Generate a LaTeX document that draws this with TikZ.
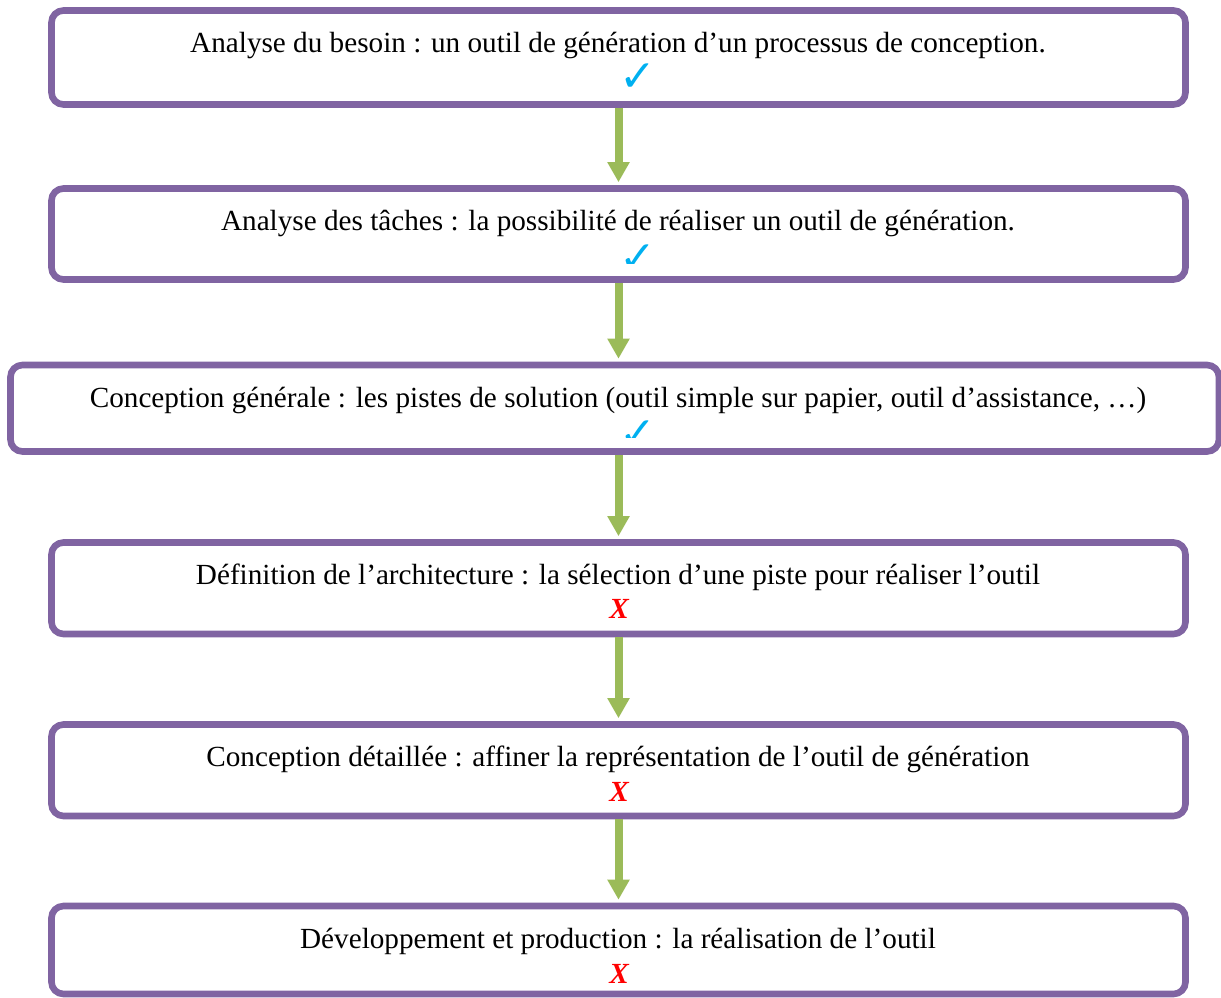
\documentclass[tikz,border=0pt]{standalone}
\usepackage{fontspec}
\setmainfont{Liberation Serif}
\newfontfamily\symb{DejaVu Sans}
\usetikzlibrary{arrows.meta,calc}
\definecolor{violet}{HTML}{8064A2}
\definecolor{vert}{HTML}{9BBB59}
\definecolor{bleu}{HTML}{00B0F0}
\begin{document}
\begin{tikzpicture}[x=0.5pt,y=-0.5pt,
    etape/.style={draw=violet,line width=3.3pt,rounded corners=6pt,minimum width=567pt,inner sep=0pt},
    texte/.style={anchor=base,font=\fontsize{14.6}{17}\selectfont},
    fleche/.style={draw=vert,line width=4pt,-{Triangle[width=10.5pt,length=10pt]},shorten >=1.5pt},
    ok/.style={text=bleu,font=\symb\fontsize{22}{22}\selectfont,inner sep=0pt},
    ko/.style={text=red,font=\fontsize{14.6}{17}\selectfont\bfseries\itshape,inner sep=0pt}]
    \useasboundingbox (0,0) rectangle (1221,997);
    \node[etape,minimum height=47pt] (b1) at (618.5,57.5) {};
    \node[etape,minimum height=45.5pt] (b2) at (618.5,234) {};
    \node[etape,minimum height=43.25pt,minimum width=604.25pt] (b3) at (614.75,408.25) {};
    \node[etape,minimum height=45.75pt] (b4) at (618.5,588.25) {};
    \node[etape,minimum height=45.75pt] (b5) at (618.5,770.25) {};
    \node[etape,minimum height=44pt] (b6) at (618.5,950) {};
    \node[texte] (t1) at (618,52.5) {Analyse du besoin : un outil de génération d’un processus de conception.};
    \node[texte] (t2) at (618,230.5) {Analyse des tâches : la possibilité de réaliser un outil de génération.};
    \node[texte] (t3) at (618,407) {Conception générale : les pistes de solution (outil simple sur papier, outil d’assistance, …)};
    \node[texte] (t4) at (618,584.5) {Définition de l’architecture : la sélection d’une piste pour réaliser l’outil};
    \node[texte] (t5) at (618,766.5) {Conception détaillée : affiner la représentation de l’outil de génération};
    \node[texte] (t6) at (618,948) {Développement et production : la réalisation de l’outil};
    \node[ok] (c1) at (638,78) {✓};
    % coches coupees par le bas du cadre
    \begin{scope}
        \clip (560,230) rectangle (700,263);
        \node[ok] (c2) at (638,259) {✓};
    \end{scope}
    \begin{scope}
        \clip (560,410) rectangle (700,437);
        \node[ok] (c3) at (638,435) {✓};
    \end{scope}
    \node[ko] (x4) at (619,609) {X};
    \node[ko] (x5) at (619,791.5) {X};
    \node[ko] (x6) at (619,974) {X};
    \draw[fleche] (b1.south) -- (b2.north);
    \draw[fleche] (b2.south) -- (b2.south |- b3.north);
    \draw[fleche] (b3.south -| b2) -- (b4.north);
    \draw[fleche] (b4.south) -- (b5.north);
    \draw[fleche] (b5.south) -- (b6.north);
\end{tikzpicture}
\end{document}
